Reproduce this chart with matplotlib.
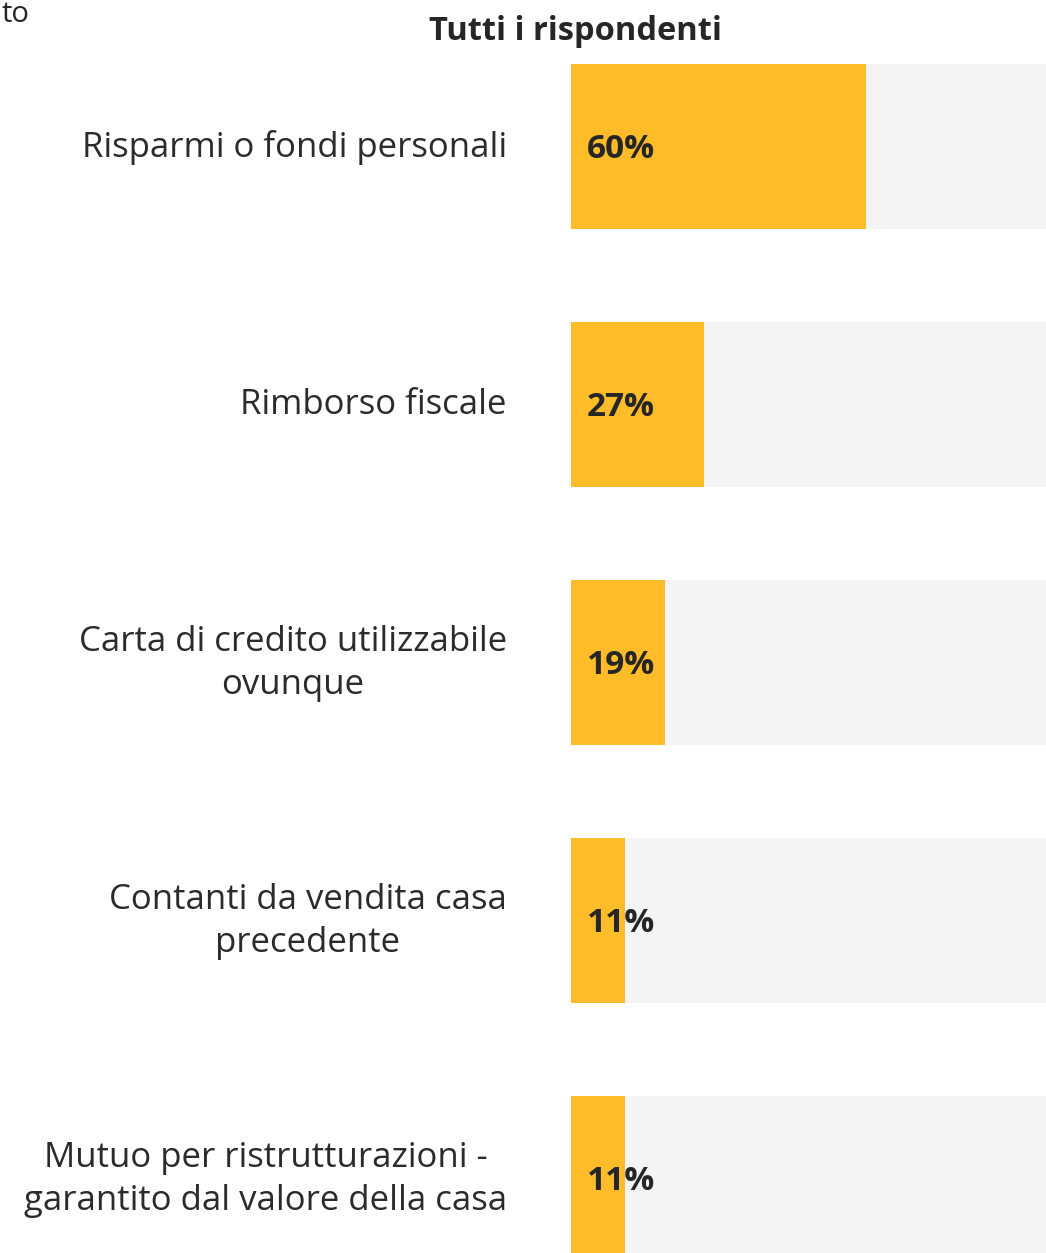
import matplotlib
matplotlib.use("Agg")
import matplotlib.pyplot as plt

categories = [
    "Risparmi o fondi personali",
    "Rimborso fiscale",
    "Carta di credito utilizzabile\novunque",
    "Contanti da vendita casa\nprecedente",
    "Mutuo per ristrutturazioni -\ngarantito dal valore della casa",
]
values = [60, 27, 19, 11, 11]
value_labels = ["60%", "27%", "19%", "11%", "11%"]
title = "Tutti i rispondenti"

plt.rcParams['font.family'] = ['Open Sans', 'DejaVu Sans']

W, H = 1046, 1253
fig = plt.figure(figsize=(W / 100, H / 100), dpi=100)
fig.patch.set_facecolor("white")

ax = fig.add_axes([571 / W, 0, 1 - 571 / W, 1])
ys = list(range(len(categories)))
ax.barh(ys, [100] * len(ys), height=0.64, color="#F4F4F4", left=0)
ax.barh(ys, values, height=0.64, color="#FFBC29", left=0)

for y, lab in zip(ys, value_labels):
    ax.annotate(lab, xy=(0, y), xytext=(16, -3), textcoords="offset pixels",
                ha="left", va="center", fontsize=24, fontweight="bold", color="#262626")

for y, cat in zip(ys, categories):
    ax.annotate(cat, xy=(0, y), xytext=(-64, -1), textcoords="offset pixels",
                ha="right", va="center", multialignment="center",
                fontsize=25, color="#2b2b2b", linespacing=1.32, annotation_clip=False)

spacing = 258.0
top_center = 146.5
ax.set_ylim((H - top_center) / spacing, -top_center / spacing)
ax.set_xlim(0, 96.5)
ax.axis("off")

fig.text(575 / W, 1 - 31 / H, title, ha="center", va="center",
         fontsize=23.5, fontweight="bold", color="#262626")
fig.text(2 / W, 1 - 14 / H, "to", ha="left", va="center", fontsize=21, color="#262626")

fig.savefig("out.png", dpi=100)
